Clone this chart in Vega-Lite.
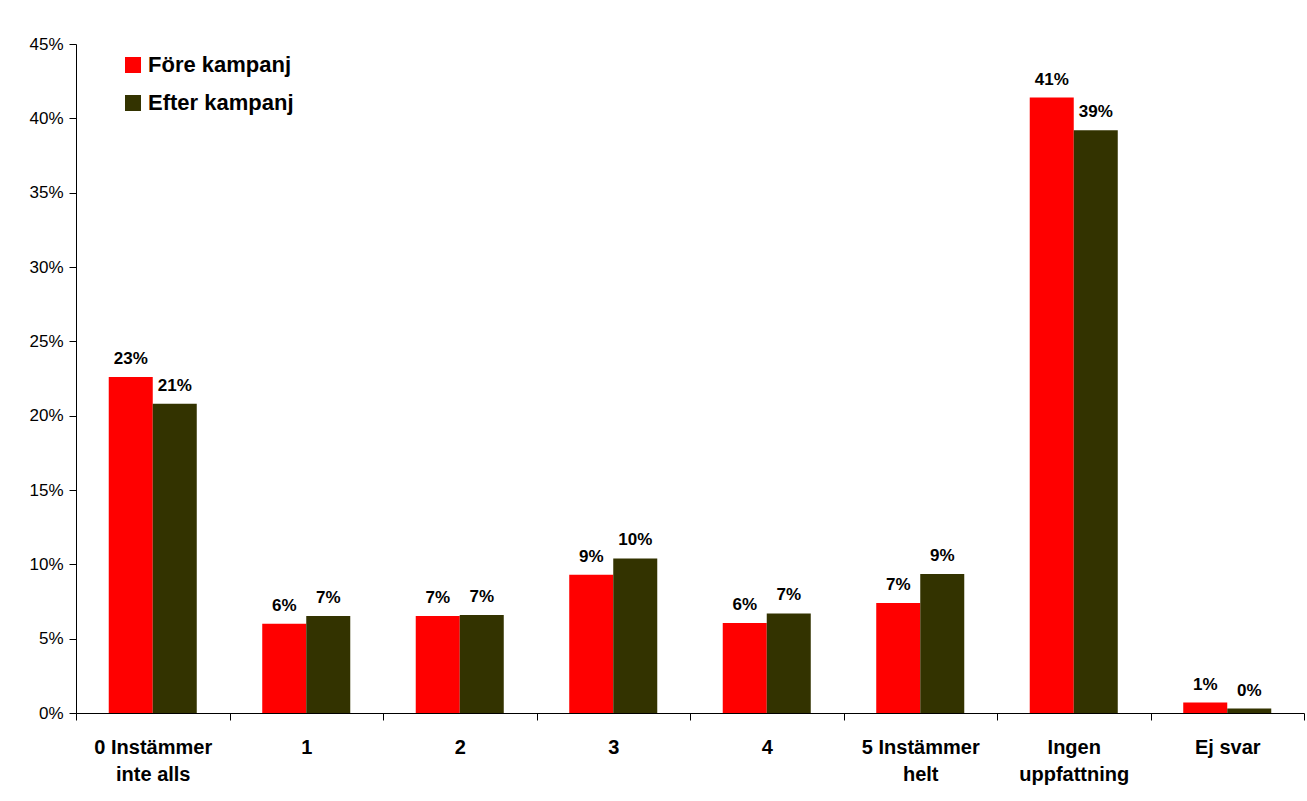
{
  "$schema": "https://vega.github.io/schema/vega-lite/v6.json",
  "width": 1228,
  "height": 669,
  "autosize": {"type": "none"},
  "padding": {"left": 76, "top": 44, "right": 3, "bottom": 88},
  "background": "white",
  "config": {
    "view": {"stroke": null},
    "font": "Liberation Sans",
    "axis": {"labelColor": "black", "domainColor": "black", "tickColor": "black", "grid": false, "labelFont": "Liberation Sans"}
  },
  "data": {
    "values": [
      {"cat": "0 Instämmer|inte alls", "serie": "Före kampanj", "v": 0.226},
      {"cat": "0 Instämmer|inte alls", "serie": "Efter kampanj", "v": 0.208},
      {"cat": "1", "serie": "Före kampanj", "v": 0.060},
      {"cat": "1", "serie": "Efter kampanj", "v": 0.0652},
      {"cat": "2", "serie": "Före kampanj", "v": 0.0652},
      {"cat": "2", "serie": "Efter kampanj", "v": 0.066},
      {"cat": "3", "serie": "Före kampanj", "v": 0.093},
      {"cat": "3", "serie": "Efter kampanj", "v": 0.104},
      {"cat": "4", "serie": "Före kampanj", "v": 0.0605},
      {"cat": "4", "serie": "Efter kampanj", "v": 0.067},
      {"cat": "5 Instämmer|helt", "serie": "Före kampanj", "v": 0.074},
      {"cat": "5 Instämmer|helt", "serie": "Efter kampanj", "v": 0.0935},
      {"cat": "Ingen|uppfattning", "serie": "Före kampanj", "v": 0.414},
      {"cat": "Ingen|uppfattning", "serie": "Efter kampanj", "v": 0.392},
      {"cat": "Ej svar", "serie": "Före kampanj", "v": 0.007},
      {"cat": "Ej svar", "serie": "Efter kampanj", "v": 0.003}
    ]
  },
  "encoding": {
    "x": {
      "field": "cat", "type": "nominal",
      "sort": ["0 Instämmer|inte alls", "1", "2", "3", "4", "5 Instämmer|helt", "Ingen|uppfattning", "Ej svar"],
      "scale": {"paddingInner": 0, "paddingOuter": 0},
      "axis": {
        "title": null, "labelAngle": 0, "labelExpr": "split(datum.label, '|')",
        "labelFontSize": 20, "labelFontWeight": "bold", "labelPadding": 17, "labelLineHeight": 27,
        "tickBand": "extent", "tickSize": 7, "labelBaseline": "top"
      }
    },
    "xOffset": {"field": "serie", "type": "nominal", "sort": ["Före kampanj", "Efter kampanj"], "scale": {"paddingInner": 0, "paddingOuter": 0.744}},
    "y": {
      "field": "v", "type": "quantitative",
      "scale": {"domain": [0, 0.45], "nice": false},
      "axis": {"title": null, "format": ".0%", "values": [0, 0.05, 0.1, 0.15, 0.2, 0.25, 0.3, 0.35, 0.4, 0.45], "labelFontSize": 17, "tickSize": 7, "labelPadding": 6}
    }
  },
  "layer": [
    {
      "mark": {"type": "bar"},
      "encoding": {
        "color": {
          "field": "serie", "type": "nominal",
          "scale": {"domain": ["Före kampanj", "Efter kampanj"], "range": ["#FF0000", "#333300"]},
          "legend": {
            "title": null, "orient": "none", "legendX": 46, "legendY": 10,
            "symbolType": "square", "symbolSize": 256, "symbolStrokeWidth": 0,
            "labelFontSize": 22, "labelFontWeight": "bold", "labelColor": "black",
            "rowPadding": 16, "labelOffset": 4
          }
        }
      }
    },
    {
      "mark": {"type": "text", "baseline": "bottom", "dy": -9, "fontSize": 17, "fontWeight": "bold", "color": "black"},
      "encoding": {"text": {"field": "v", "type": "quantitative", "format": ".0%"}}
    }
  ]
}
